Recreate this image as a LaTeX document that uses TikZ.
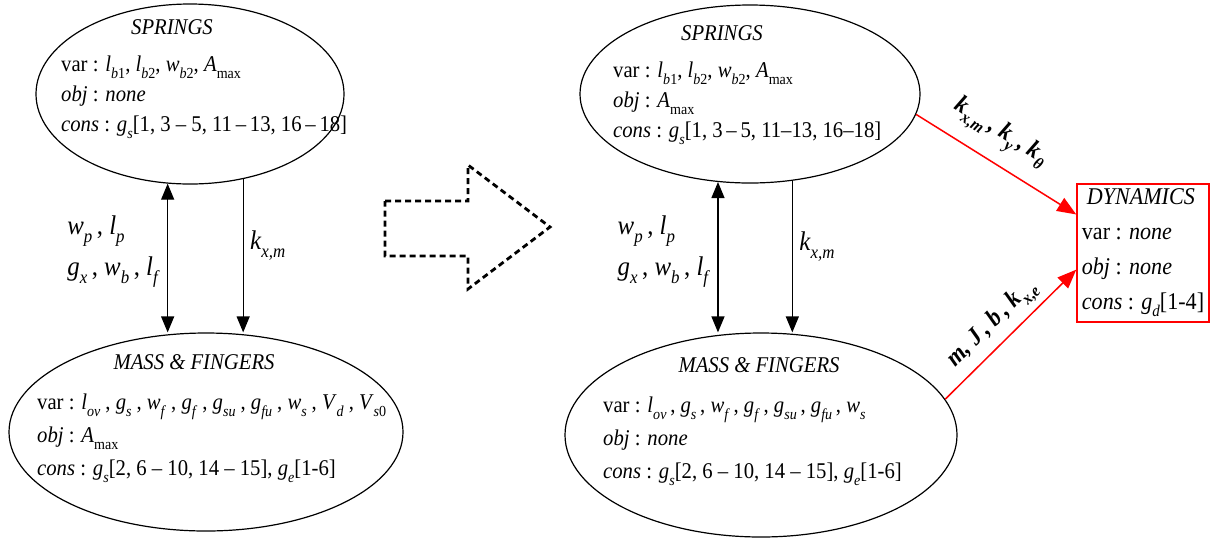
\documentclass[tikz,border=0pt]{standalone}
\usepackage{graphicx}
\usepackage{fontspec}
\setmainfont{Liberation Serif}[FakeStretch=0.92]
\usetikzlibrary{arrows.meta,shapes.geometric,positioning}

\newcommand{\qv}[2]{\textit{#1}\raisebox{-0.3em}{\scalebox{0.68}{#2}}}
\newcommand{\qi}[2]{\qv{#1}{\textit{#2}}}
\newcommand{\gp}{\hspace{0.22em}}

\begin{document}
\begin{tikzpicture}[
    x=1pt, y=-1pt,
    every node/.style={font=\fontsize{22.5}{28}\selectfont},
    blob/.style={ellipse, draw, line width=1.2pt, inner sep=0pt},
    title/.style={font=\fontsize{22.5}{28}\selectfont\itshape, inner sep=0pt},
    body/.style={font=\fontsize{22.5}{#1}\selectfont, align=left, anchor=north west, inner sep=0pt},
    body/.default=30,
    tip/.style={-{Triangle[length=16pt,width=13pt]}, line width=1.2pt},
    twotip/.style={{Triangle[length=16pt,width=13pt]}-{Triangle[length=16pt,width=13pt]}, line width=1.2pt},
    redarrow/.style={-{Triangle[length=19pt,width=15pt]}, line width=1.5pt, red},
    redlabel/.style={font=\fontsize{25}{28}\selectfont\bfseries\itshape, text=black, inner sep=2pt},
    pair/.style={font=\fontsize{27}{41}\selectfont, align=left},
    kxm/.style={font=\fontsize{27}{30}\selectfont},
    bigarrow/.style={line width=2.8pt, dash pattern=on 6pt off 4pt, line join=miter}
]
\useasboundingbox (0,0) rectangle (1215,542);

% Left: before
\node[blob, minimum width=308pt, minimum height=180pt] (sprA) at (190,94) {};
\node[title] (sprAt) at (172,27) {SPRINGS};
\node[body] (sprAb) at (61,56) {var : \qv{l}{\textit{b}1}, \qv{l}{\textit{b}2}, \qv{w}{\textit{b}2}, \qv{A}{max}\\
  \textit{obj} : \textit{none}\\
  \textit{cons} : \qi{g}{s}[1, 3 -- 5, 11\,--\,13, 16\,--\,18]};

\node[blob, minimum width=394pt, minimum height=198pt] (masA) at (206,432) {};
\node[title] (masAt) at (194,362) {MASS \& FINGERS};
\node[body=33] (masAb) at (37,394) {var : \qi{l}{ov}\gp, \qi{g}{s}\gp, \qi{w}{f}\gp, \qi{g}{f}\gp, \qi{g}{su}\gp, \qi{g}{fu}\gp, \qi{w}{s}\gp, \qi{V}{d}\gp, \qv{V}{\textit{s}0}\\
  \textit{obj} : \qv{A}{max}\\
  \textit{cons} : \qi{g}{s}[2, 6 -- 10, 14 -- 15], \qi{g}{e}[1-6]};

\draw[twotip] (sprA.-104) -- (sprA.-104 |- masA.north)
  node[midway, left=4pt, yshift=6pt, pair] {\qi{w}{p}\,, \qi{l}{p}\\ \qi{g}{x}\,, \qi{w}{b}\,, \qi{l}{f}};
\draw[tip] (sprA.-58.5) -- (sprA.-58.5 |- masA.north)
  node[midway, right=3pt, yshift=10pt, kxm] {\qi{k}{x,m}};

% Transition
\draw[bigarrow] (385,201) -- (468,201) -- (468,165) -- (550,227) -- (468,289) -- (468,256) -- (385,256) -- cycle;

% Right: after
\node[blob, minimum width=340pt, minimum height=178pt] (sprB) at (750,94) {};
\node[title] (sprBt) at (722,33) {SPRINGS};
\node[body] (sprBb) at (613,62) {var : \qv{l}{\textit{b}1}, \qv{l}{\textit{b}2}, \qv{w}{\textit{b}2}, \qv{A}{max}\\
  \textit{obj} : \qv{A}{max}\\
  \textit{cons} : \qi{g}{s}[1, 3\,--\,5, 11--13, 16--18]};

\node[blob, minimum width=392pt, minimum height=204pt] (masB) at (761,435) {};
\node[title] (masBt) at (759,365) {MASS \& FINGERS};
\node[body=33] (masBb) at (603,397) {var : \qi{l}{ov}\,, \qi{g}{s}\,, \qi{w}{f}\,, \qi{g}{f}\,, \qi{g}{su}\,, \qi{g}{fu}\,, \qi{w}{s}\\
  \textit{obj} : \textit{none}\\
  \textit{cons} : \qi{g}{s}[2, 6 -- 10, 14 -- 15], \qi{g}{e}[1-6]};

\draw[twotip] (sprB.-110.1) -- (sprB.-110.1 |- masB.north)
  node[midway, left=4pt, yshift=6pt, pair] {\qi{w}{p}\,, \qi{l}{p}\\ \qi{g}{x}\,, \qi{w}{b}\,, \qi{l}{f}};
\draw[tip] (sprB.-64) -- (sprB.-64 |- masB.north)
  node[midway, right=3pt, yshift=10pt, kxm] {\qi{k}{x,m}};

% Dynamics block
\node[draw=red, line width=1.5pt, minimum width=132pt, minimum height=138pt, align=left, inner sep=4pt,
  font=\fontsize{24}{35}\selectfont] (dyn) at (1143,253)
  {\hspace*{5pt}\textit{DYNAMICS}\\ var : \textit{none}\\ \textit{obj} : \textit{none}\\ \textit{cons} : \qi{g}{d}[1-4]};

\draw[redarrow] (sprB.-7.3) -- (dyn.150.7)
  node[pos=0.43, above=11pt, sloped, redlabel] {\qi{k}{x,m}\,, \qi{k}{y}\,, \qi{k}{θ}};
\draw[redarrow] (masB.11.8) -- (dyn.194.4)
  node[pos=0.47, above=3pt, sloped, redlabel] {\textit{m}, \textit{J}\,, \textit{b}\,, \qi{k}{x,e}};

\end{tikzpicture}
\end{document}
